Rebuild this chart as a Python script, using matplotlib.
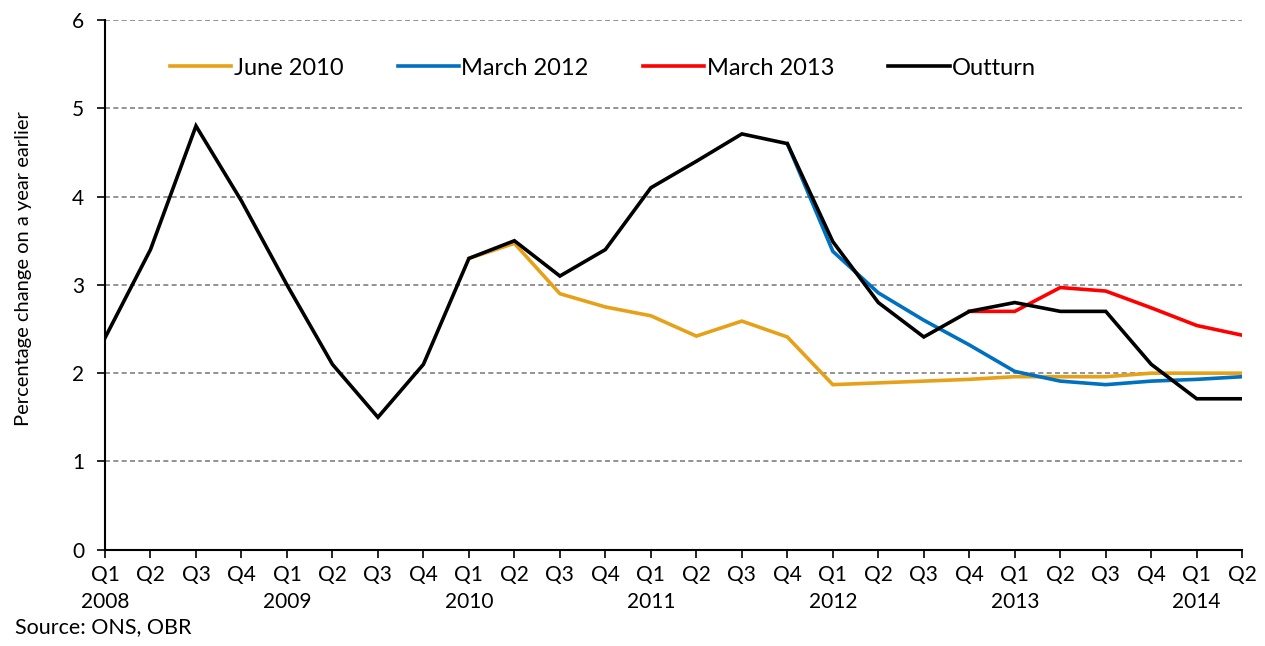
import numpy as np
import matplotlib.pyplot as plt

plt.rcParams["font.family"] = ["Lato", "DejaVu Sans"]

QUARTERS = ["Q1", "Q2", "Q3", "Q4"] * 6 + ["Q1", "Q2"]
YEARS = ["2008", "2009", "2010", "2011", "2012", "2013", "2014"]

outturn = [2.4, 3.4, 4.8, 3.95, 3.0, 2.1, 1.5, 2.1, 3.3, 3.5, 3.1, 3.4, 4.1,
           4.4, 4.71, 4.6, 3.49, 2.8, 2.41, 2.7, 2.8, 2.7, 2.7, 2.1, 1.71, 1.71]

# forecasts: (index of first quarter, values)
june_2010 = (8, [3.3, 3.47, 2.9, 2.75, 2.65, 2.42, 2.59, 2.41, 1.87, 1.89,
                 1.91, 1.93, 1.96, 1.96, 1.96, 2.0, 2.0, 2.0])
march_2012 = (15, [4.6, 3.38, 2.91, 2.6, 2.32, 2.02, 1.91, 1.87, 1.91, 1.93, 1.96])
march_2013 = (19, [2.7, 2.7, 2.97, 2.93, 2.74, 2.54, 2.43])


fig = plt.figure(figsize=(12.65, 6.46), dpi=100)
ax = fig.add_axes([0.083, 0.149, 0.899, 0.82])

x_all = np.arange(len(outturn))


def draw(series, colour, label):
    start, vals = series
    ax.plot(np.arange(start, start + len(vals)), vals, color=colour, lw=2.6,
            label=label, solid_joinstyle="miter")


draw(june_2010, "#E6A118", "June 2010")
draw(march_2012, "#0070C0", "March 2012")
draw(march_2013, "#FF0000", "March 2013")
ax.plot(x_all, outturn, color="black", lw=2.6, label="Outturn", solid_joinstyle="miter")

ax.set_xlim(0, len(outturn) - 1)
ax.set_ylim(0, 6)
ax.set_yticks(range(0, 7))
for v in range(1, 7):
    ax.axhline(v, color="#808080", lw=1.2, ls=(0, (3, 2)), zorder=0)

labels = []
for i, q in enumerate(QUARTERS):
    if q == "Q1":
        labels.append(q + "\n" + YEARS[i // 4])
    else:
        labels.append(q)
ax.set_xticks(x_all)
ax.set_xticklabels(labels, linespacing=1.45)
ax.tick_params(axis="both", labelsize=15, length=6, width=1.2, direction="out")
ax.tick_params(axis="x", pad=5)
ax.tick_params(axis="y", pad=9)

for side in ["top", "right"]:
    ax.spines[side].set_visible(False)
for side in ["left", "bottom"]:
    ax.spines[side].set_linewidth(1.5)

ax.set_ylabel("Percentage change on a year earlier", fontsize=14.5)
ax.yaxis.set_label_coords(-0.064, 0.53)

ax.legend(loc="center", bbox_to_anchor=(0.438, 0.909), ncol=4, frameon=False,
          fontsize=17, handlelength=2.6, handletextpad=0.1, columnspacing=2.3)

fig.text(0.012, 0.02, "Source: ONS, OBR", fontsize=15.5)

fig.savefig("out.png", dpi=100)
